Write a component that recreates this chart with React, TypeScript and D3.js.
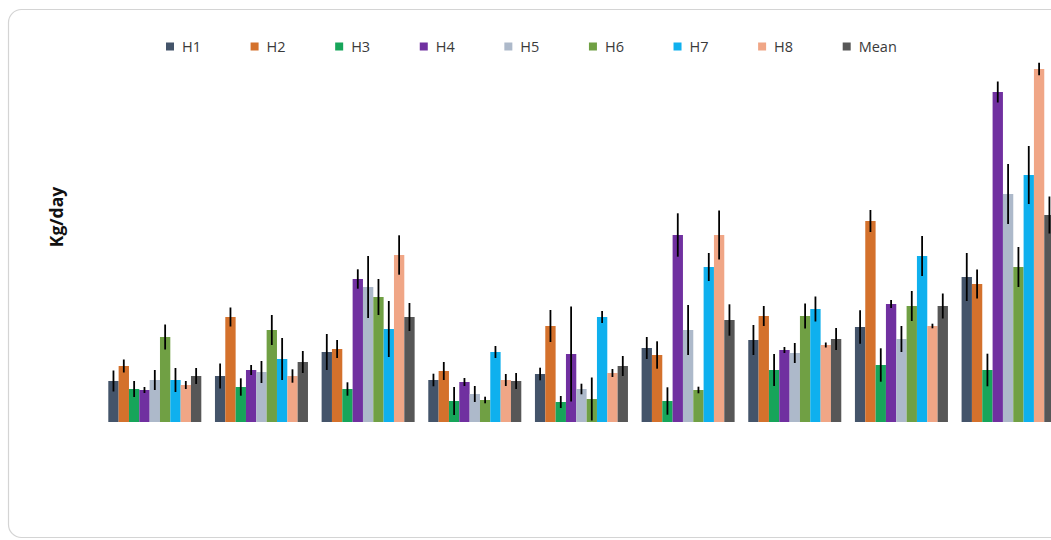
import React from "react";
import * as d3 from "d3";

const groups = ["G1", "G2", "G3", "G4", "G5", "G6", "G7", "G8", "G9"];
const seriesNames = ["H1", "H2", "H3", "H4", "H5", "H6", "H7", "H8", "Mean"];
const seriesColors = ["#44546a", "#d4712c", "#17a55a", "#7030a0", "#adb9ca", "#70a044", "#0fb0ee", "#f0a686", "#575757"];

const H1 = [41, 46, 70, 42, 48, 74, 82, 95, 145];
const H1err = [10.5, 12.5, 18, 6.3, 6.3, 11, 15, 16.7, 24];
const H2 = [56, 105, 73, 51, 96, 67, 106, 201, 138];
const H2err = [6.5, 9.5, 9, 9, 16, 13.7, 10, 11, 14.5];
const H3 = [33, 35, 33, 21, 20, 21, 52, 57, 52];
const H3err = [8, 8.7, 6.7, 14, 6, 13.7, 16, 16.7, 16.3];
const H4 = [32, 52, 143, 40, 68, 187, 72, 118, 330];
const H4err = [3, 5, 9.7, 4, 47.5, 21.7, 3, 4, 10.5];
const H5 = [42, 50, 135, 28, 33, 92, 69, 83, 228];
const H5err = [10, 11, 31, 8, 5.3, 25, 10, 13, 30];
const H6 = [85, 92, 125, 22, 23, 32, 106, 116, 155];
const H6err = [12.5, 15, 18, 3.3, 21.5, 3.3, 12.5, 15, 20];
const H7 = [42, 63, 93, 70, 105, 155, 113, 166, 247];
const H7err = [12, 21, 28, 6, 6, 14, 12.5, 20, 29];
const H8 = [37, 46, 167, 42, 49, 187, 77, 96, 353];
const H8err = [4, 6.7, 19.7, 6, 4, 24.5, 2.5, 2.3, 6.3];
const Mean = [46, 60, 105, 41, 56, 102, 83, 116, 207];
const MeanErr = [8, 11, 14, 8, 10, 15.7, 11, 12.5, 18.5];

const seriesValues = [H1, H2, H3, H4, H5, H6, H7, H8, Mean];
const seriesErrors = [H1err, H2err, H3err, H4err, H5err, H6err, H7err, H8err, MeanErr];

const yAxisLabel = "Kg/day";

export default function App() {
  const W = 1051;
  const H = 540;
  const x0 = d3.scaleBand<string>().domain(groups).range([108.3, 1054.6]).paddingInner(0.128).paddingOuter(0);
  const x1 = d3.scaleBand<string>().domain(seriesNames).range([0, x0.bandwidth()]).padding(0);
  const y = d3.scaleLinear().domain([0, 360]).range([422, 62]);

  const legendX = d3.scalePoint<string>().domain(seriesNames).range([166, 842.7]);

  return (
    <svg width={W} height={H} style={{ position: "absolute", left: 0, top: 0, display: "block" }}>
      <rect x={0} y={0} width={W} height={H} fill="#ffffff" />
      <rect x={8.5} y={9.5} width={1070} height={528} rx={13} ry={13} fill="#ffffff" stroke="#d4d4d4" strokeWidth={1.2} />
      <text
        transform={`translate(63,217) rotate(-90)`}
        textAnchor="middle"
        fontFamily="'Open Sans', 'Liberation Sans', sans-serif"
        fontWeight="bold"
        fontSize={17.5}
        fill="#111"
      >
        {yAxisLabel}
      </text>
      {seriesNames.map((s, si) => (
        <g key={s}>
          <rect x={legendX(s)!} y={42.5} width={8} height={8} fill={seriesColors[si]} />
          <text
            x={legendX(s)! + 16}
            y={51.5}
            fontFamily="'Open Sans', 'Liberation Sans', sans-serif"
            fontSize={14.5}
            fill="#3a3a3a"
          >
            {s}
          </text>
        </g>
      ))}
      {groups.map((g, gi) => (
        <g key={g} transform={`translate(${x0(g)},0)`}>
          {seriesNames.map((s, si) => {
            const v = seriesValues[si][gi];
            const e = seriesErrors[si][gi];
            const bx = x1(s)!;
            const bw = x1.bandwidth();
            return (
              <g key={s}>
                <rect x={bx} y={y(v)} width={bw} height={y(0) - y(v)} fill={seriesColors[si]} />
                <line
                  x1={bx + bw / 2}
                  x2={bx + bw / 2}
                  y1={y(v + e)}
                  y2={y(Math.max(0, v - e))}
                  stroke="#000"
                  strokeWidth={1.8}
                />
              </g>
            );
          })}
        </g>
      ))}
    </svg>
  );
}
